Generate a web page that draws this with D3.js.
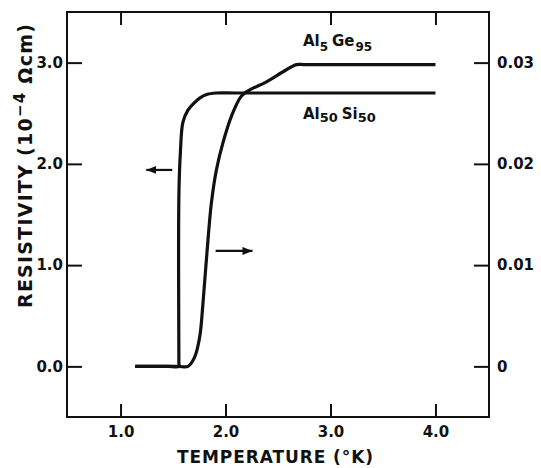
<!DOCTYPE html>
<html>
<head>
<meta charset="utf-8">
<script src="https://cdn.jsdelivr.net/npm/d3@7"></script>
<style>
  body { margin: 0; background: #fff; }
  text { font-family: "DejaVu Sans", sans-serif; font-weight: bold; fill: #111; }
</style>
</head>
<body>
<div id="chart"></div>
<script>
// data
var tempSi = [1.14, 1.45, 1.556, 1.556, 1.554, 1.553, 1.557, 1.57, 1.594, 1.642, 1.70, 1.754, 1.82, 1.913, 2.1, 4.0];
var rhoSi  = [0, 0, 0, 0.03, 0.6, 1.2, 1.75, 2.11, 2.41, 2.53, 2.60, 2.65, 2.685, 2.70, 2.70, 2.70];

var tempGe = [1.14, 1.55, 1.642, 1.706, 1.754, 1.785, 1.823, 1.865, 1.913, 1.976, 2.056, 2.152, 2.231, 2.39, 2.549, 2.677, 2.76, 4.0];
var rhoGe  = [0, 0, 0, 0.00092, 0.0029, 0.0062, 0.0112, 0.0161, 0.0194, 0.0221, 0.0247, 0.0267, 0.0273, 0.0281, 0.0291, 0.0298, 0.0298, 0.0298];

var xTicks = [1.0, 2.0, 3.0, 4.0];
var yTicksLeft = [0.0, 1.0, 2.0, 3.0];
var yTicksRight = [0, 0.01, 0.02, 0.03];

// arrows: [x tail, x tip, y] in left-axis units
var arrowLeft = [1.493, 1.245, 1.94];
var arrowRight = [1.906, 2.257, 1.14];

var width = 541, height = 468;
var margin = {top: 12, right: 52, bottom: 51, left: 67};

var svg = d3.select("#chart")
  .append("svg")
    .attr("width", width)
    .attr("height", height);

var x = d3.scaleLinear()
  .domain([0.49, 4.51])
  .range([margin.left, width - margin.right]);

var y = d3.scaleLinear()
  .domain([-0.5, 3.5])
  .range([height - margin.bottom, margin.top]);

var y2 = d3.scaleLinear()
  .domain([-0.005, 0.035])
  .range([height - margin.bottom, margin.top]);

// frame
svg.append("rect")
  .attr("x", x.range()[0])
  .attr("y", y.range()[1])
  .attr("width", x.range()[1] - x.range()[0])
  .attr("height", y.range()[0] - y.range()[1])
  .attr("fill", "none")
  .attr("stroke", "#111")
  .attr("stroke-width", 2);

var fmt1 = d3.format(".1f");

var gLeft = svg.append("g")
  .attr("transform", "translate(" + x.range()[0] + ",0)")
  .call(d3.axisLeft(y).tickValues(yTicksLeft).tickSize(-15).tickPadding(4).tickFormat(fmt1));

var gRight = svg.append("g")
  .attr("transform", "translate(" + x.range()[1] + ",0)")
  .call(d3.axisRight(y2).tickValues(yTicksRight).tickSize(-15).tickPadding(8)
    .tickFormat(function(d) { return d === 0 ? "0" : d3.format(".2f")(d); }));

var gBottom = svg.append("g")
  .attr("transform", "translate(0," + y.range()[0] + ")")
  .call(d3.axisBottom(x).tickValues(xTicks).tickSize(-13).tickPadding(9).tickFormat(fmt1));

var gTop = svg.append("g")
  .attr("transform", "translate(0," + y.range()[1] + ")")
  .call(d3.axisTop(x).tickValues(xTicks).tickSize(-13).tickFormat(""));

[gLeft, gRight, gBottom, gTop].forEach(function(g) {
  g.select(".domain").remove();
  g.selectAll(".tick line").attr("stroke", "#111").attr("stroke-width", 2);
  g.selectAll(".tick text")
    .attr("fill", "#111")
    .style("font-size", "15px")
    .style("font-family", "'DejaVu Sans', sans-serif")
    .style("font-weight", "bold");
});

// axis titles
svg.append("text")
  .attr("x", 275)
  .attr("y", 463)
  .attr("text-anchor", "middle")
  .attr("textLength", 196)
  .attr("lengthAdjust", "spacing")
  .style("font-size", "17px")
  .text("TEMPERATURE (\u00b0K)");

var ytitle = svg.append("text")
  .attr("transform", "translate(32,166) rotate(-90)")
  .attr("text-anchor", "middle")
  .attr("textLength", 284)
  .attr("lengthAdjust", "spacing")
  .style("font-size", "19px");
ytitle.append("tspan").text("RESISTIVITY (10");
ytitle.append("tspan").attr("dy", -7).style("font-size", "15px").text("\u22124");
ytitle.append("tspan").attr("dy", 7).text(" \u03a9cm)");

// curves
var line = d3.line().curve(d3.curveCatmullRom.alpha(0.5));

svg.append("path")
  .datum(tempSi.map(function(t, i) { return [x(t), y(rhoSi[i])]; }))
  .attr("fill", "none")
  .attr("stroke", "#111")
  .attr("stroke-width", 3.2)
  .attr("stroke-linejoin", "round")
  .attr("d", line);

svg.append("path")
  .datum(tempGe.map(function(t, i) { return [x(t), y2(rhoGe[i])]; }))
  .attr("fill", "none")
  .attr("stroke", "#111")
  .attr("stroke-width", 3.2)
  .attr("stroke-linejoin", "round")
  .attr("d", line);

// arrows
svg.append("defs").append("marker")
  .attr("id", "head")
  .attr("viewBox", "0 0 10 8")
  .attr("refX", 10)
  .attr("refY", 4)
  .attr("markerWidth", 10)
  .attr("markerHeight", 8)
  .attr("markerUnits", "userSpaceOnUse")
  .attr("orient", "auto")
  .append("path")
    .attr("d", "M0,0 L10,4 L0,8 Z")
    .attr("fill", "#111");

[arrowLeft, arrowRight].forEach(function(a) {
  svg.append("line")
    .attr("x1", x(a[0]))
    .attr("x2", x(a[1]))
    .attr("y1", y(a[2]))
    .attr("y2", y(a[2]))
    .attr("stroke", "#111")
    .attr("stroke-width", 2.2)
    .attr("marker-end", "url(#head)");
});

// curve labels
var labGe = svg.append("text")
  .attr("x", x(2.737))
  .attr("y", y(3.16))
  .style("font-size", "15px");
labGe.append("tspan").text("Al");
labGe.append("tspan").attr("dy", 5).style("font-size", "12px").text("5");
labGe.append("tspan").attr("dx", 4).attr("dy", -5).text("Ge");
labGe.append("tspan").attr("dx", 1).attr("dy", 5).style("font-size", "12px").text("95");

var labSi = svg.append("text")
  .attr("x", x(2.737))
  .attr("y", y(2.44))
  .style("font-size", "15px");
labSi.append("tspan").text("Al");
labSi.append("tspan").attr("dy", 3).style("font-size", "13px").text("50");
labSi.append("tspan").attr("dx", 4).attr("dy", -3).text("Si");
labSi.append("tspan").attr("dy", 3).style("font-size", "13px").text("50");
</script>
</body>
</html>
